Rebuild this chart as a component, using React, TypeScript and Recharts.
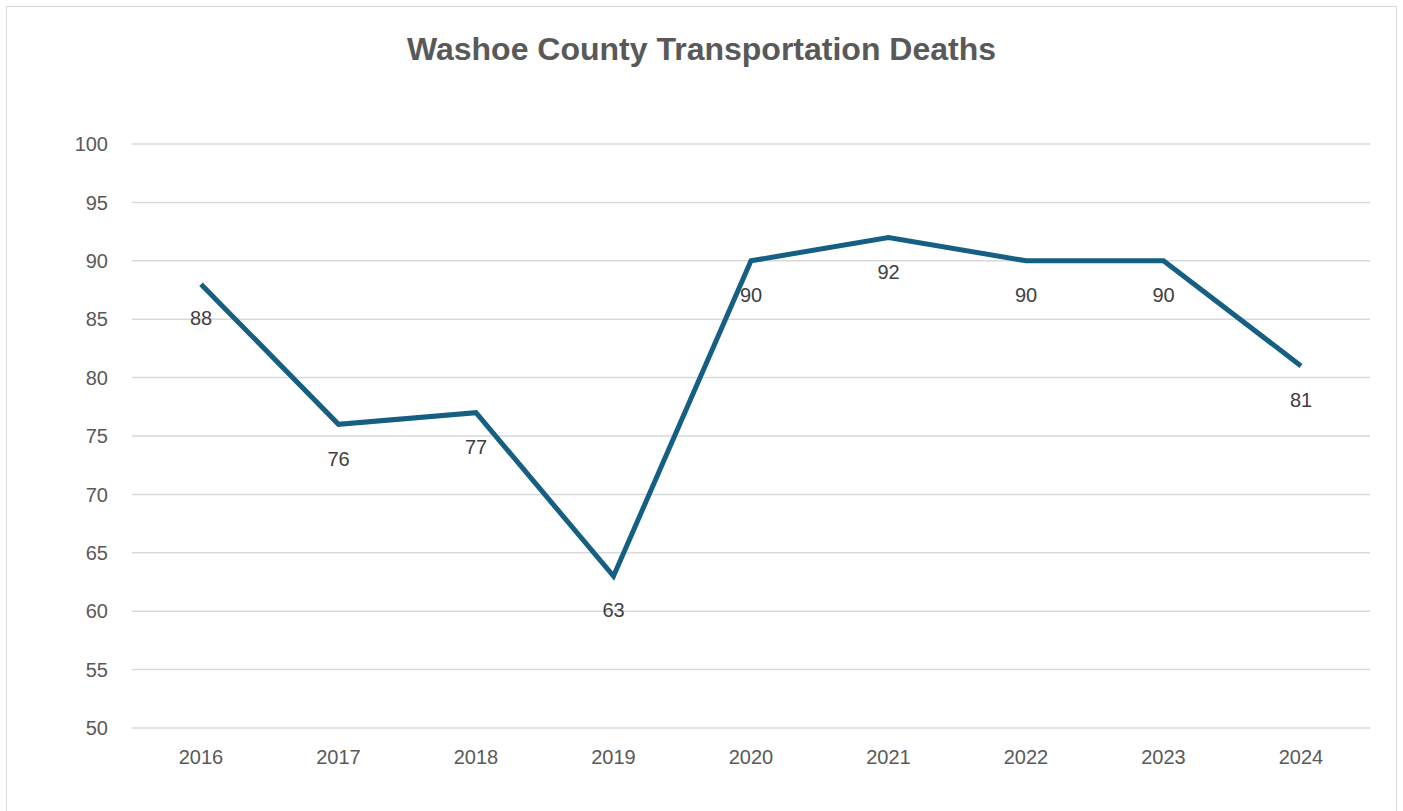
import { CartesianGrid, LabelList, Line, LineChart, XAxis, YAxis } from "recharts";

const years = ["2016", "2017", "2018", "2019", "2020", "2021", "2022", "2023", "2024"];
const deaths = [88, 76, 77, 63, 90, 92, 90, 90, 81];
const yTicks = [50, 55, 60, 65, 70, 75, 80, 85, 90, 95, 100];

const data = years.map((y, i) => ({ year: y, deaths: deaths[i] }));

const FONT = '"Liberation Sans", Arial, sans-serif';

export default function App() {
  return (
    <div style={{ position: "relative", width: 1403, height: 811, background: "#fff", fontFamily: FONT }}>
      <style>{`body{margin:0}`}</style>
      <div
        style={{
          position: "absolute",
          left: 6,
          top: 6,
          width: 1391,
          height: 820,
          border: "1px solid #d9d9d9",
          boxSizing: "border-box",
        }}
      />
      <div
        style={{
          position: "absolute",
          top: 30,
          width: 1403,
          textAlign: "center",
          fontSize: 32,
          lineHeight: "38px",
          fontWeight: "bold",
          color: "#595959",
        }}
      >
        Washoe County Transportation Deaths
      </div>
      <div style={{ position: "absolute", left: 0, top: 0 }}>
        <LineChart width={1403} height={811} data={data} margin={{ top: 144, right: 33, bottom: 0, left: 0 }}>
          <CartesianGrid vertical={false} stroke="#d9d9d9" strokeWidth={1.5} />
          <XAxis
            dataKey="year"
            height={83}
            padding={{ left: 69, right: 69 }}
            axisLine={false}
            tickLine={false}
            tickMargin={16}
            tick={{ fill: "#595959", fontSize: 20, fontFamily: FONT }}
          />
          <YAxis
            domain={[50, 100]}
            ticks={yTicks}
            width={132}
            axisLine={false}
            tickLine={false}
            tickMargin={18}
            tick={{ fill: "#595959", fontSize: 20, fontFamily: FONT }}
          />
          <Line
            type="linear"
            dataKey="deaths"
            stroke="#156082"
            strokeWidth={5}
            dot={false}
            isAnimationActive={false}
          >
            <LabelList dataKey="deaths" position="bottom" offset={27} fill="#404040" fontSize={20} fontFamily={FONT} />
          </Line>
        </LineChart>
      </div>
    </div>
  );
}
